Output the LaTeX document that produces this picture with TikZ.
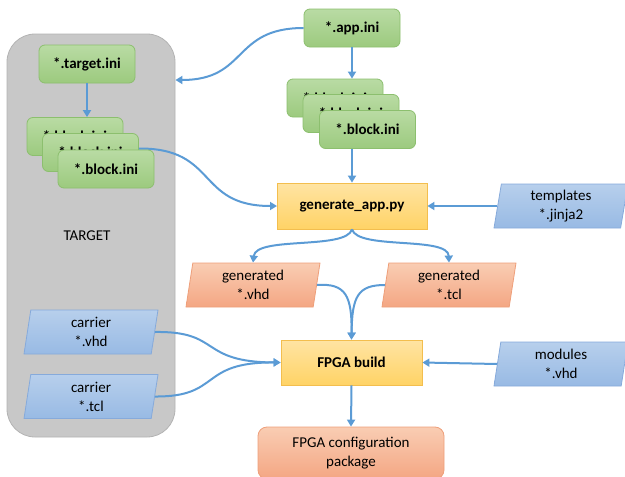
\documentclass[tikz,border=0pt]{standalone}
\usepackage{fontspec}
\setmainfont{Carlito}
\usetikzlibrary{shapes.geometric,arrows.meta,calc}

\definecolor{grnTop}{HTML}{B9DBA4}
\definecolor{grnBot}{HTML}{9CCA7E}
\definecolor{grnLine}{HTML}{8CBF6E}
\definecolor{bluTop}{HTML}{B7CFEC}
\definecolor{bluBot}{HTML}{98BAE4}
\definecolor{bluLine}{HTML}{86AADB}
\definecolor{orgTop}{HTML}{F9CDB3}
\definecolor{orgBot}{HTML}{F4A683}
\definecolor{orgLine}{HTML}{EE9F7A}
\definecolor{ylwTop}{HTML}{FFE4A3}
\definecolor{ylwBot}{HTML}{FFD366}
\definecolor{ylwLine}{HTML}{F3BE4E}
\definecolor{grayFill}{HTML}{C8C8C8}
\definecolor{grayLine}{HTML}{B3B3B3}
\definecolor{flow}{HTML}{5B9BD5}

\tikzset{
  x=1pt, y=-1pt,
  every node/.style={font=\fontsize{15}{19}\selectfont, align=center, inner sep=0pt},
  inifile/.style={rectangle, rounded corners=6pt, draw=grnLine, line width=0.8pt,
    top color=grnTop, bottom color=grnBot, minimum width=96pt, minimum height=38pt,
    font=\fontsize{15}{19}\selectfont\bfseries},
  datafile/.style={trapezium, trapezium left angle=77, trapezium right angle=103,
    trapezium stretches body, draw=bluLine, line width=0.8pt,
    top color=bluTop, bottom color=bluBot, minimum width=134pt, minimum height=44pt},
  genfile/.style={datafile, draw=orgLine, top color=orgTop, bottom color=orgBot},
  tool/.style={rectangle, draw=ylwLine, line width=0.8pt, top color=ylwTop,
    bottom color=ylwBot, minimum height=46pt, font=\fontsize{15}{19}\selectfont\bfseries},
  product/.style={rectangle, rounded corners=9pt, draw=orgLine, line width=0.8pt,
    top color=orgTop, bottom color=orgBot, minimum width=186pt, minimum height=52pt},
  flowline/.style={draw=flow, line width=2pt, -{Triangle[length=7pt,width=8pt]}},
}

\begin{document}
\begin{tikzpicture}
\useasboundingbox (0,0) rectangle (625,477);
\clip (0,0) rectangle (625,477);

% target container
\node[draw=grayLine, fill=grayFill, line width=0.8pt, rounded corners=28pt,
      minimum width=168pt, minimum height=403pt] (target) at (91,235.5) {};
\node (targetlbl) at (87,236) {TARGET};

% target-side configuration
\node[inifile] (tini) at (87,64) {*.target.ini};
\node[inifile] (lblkA) at (75,136.5) {*.block.ini};
\node[inifile] (lblkB) at (90.5,152.5) {*.block.ini};
\draw[flowline] ([yshift=4pt]lblkB.east) .. controls (218,148) and (196,206) .. (277,206);
\node[inifile] (lblkC) at (106,169) {*.block.ini};

% application-side configuration
\node[inifile] (app) at (352,28) {*.app.ini};
\node[inifile] (rblkA) at (335,98) {*.block.ini};
\node[inifile] (rblkB) at (351,113.5) {*.block.ini};
\node[inifile] (rblkC) at (367.5,129.5) {*.block.ini};

% generator
\node[tool, minimum width=150pt] (gen) at (352,206) {generate\_app.py};
\node[datafile] (tmpl) at (561,206) {templates\\*.jinja2};

% generated sources
\node[genfile] (gvhd) at (253,285) {generated\\*.vhd};
\node[genfile] (gtcl) at (449,285) {generated\\*.tcl};

% build
\node[tool, minimum width=141pt, minimum height=45pt] (build) at (351.5,362.5) {FPGA build};
\node[datafile] (cvhd) at (91,332) {carrier\\*.vhd};
\node[datafile] (ctcl) at (91,396.5) {carrier\\*.tcl};
\node[datafile] (mods) at (561,364) {modules\\*.vhd};
\node[product] (pkg) at (351,453) {FPGA configuration\\package};

% connectors
\draw[flowline] (app.west) .. controls (232,28) and (248,80) .. (target.east |- 0,80);
\draw[flowline] (tini.south) -- (tini.south |- lblkA.north);
\draw[flowline] (app.south) -- (app.south |- rblkA.north);
\draw[flowline] (gen.north |- rblkC.south) -- (gen.north);
\draw[flowline] (tmpl.west) -- (gen.east);
\draw[flowline] (gen.south) .. controls (346,250) and (256,236) .. (gvhd.north);
\draw[flowline] (gen.south) .. controls (358,250) and (448,236) .. (gtcl.north);
\draw[flowline] (gvhd.east) .. controls (346,283) and (352,296) .. (build.north);
\draw[flowline] (gtcl.west) .. controls (358,285) and (352,296) .. (build.north);
\draw[flowline] (cvhd.east) .. controls (222,331) and (198,362) .. (build.west);
\draw[flowline] (ctcl.east) .. controls (222,397) and (198,362) .. (build.west);
\draw[flowline] (mods.west) -- (build.east);
\draw[flowline] (build.south) -- (pkg.north);
\end{tikzpicture}
\end{document}
